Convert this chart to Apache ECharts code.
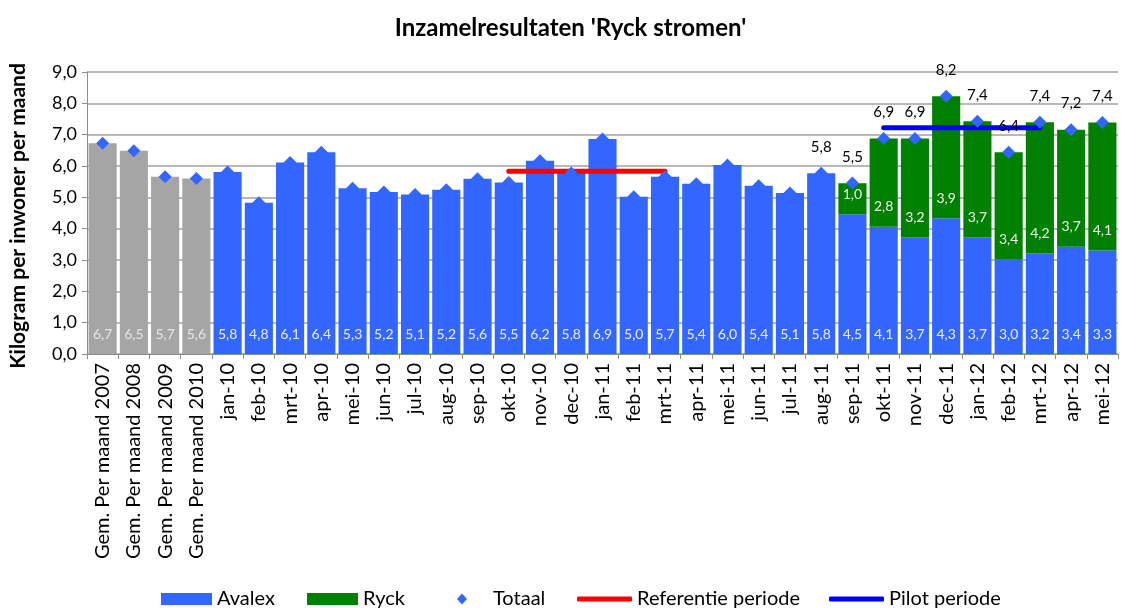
<!doctype html>
<html>
<head>
<meta charset="utf-8">
<title>Inzamelresultaten 'Ryck stromen'</title>
<style>
    html, body { margin: 0; padding: 0; background: #fff; }
    #chart { width: 1141px; height: 608px; }
</style>
</head>
<body>
<div id="chart"></div>
<script src="https://cdn.jsdelivr.net/npm/echarts@6/dist/echarts.min.js"></script>
<script>
    var maanden = ['Gem. Per maand 2007', 'Gem. Per maand 2008', 'Gem. Per maand 2009', 'Gem. Per maand 2010',
        'jan-10', 'feb-10', 'mrt-10', 'apr-10', 'mei-10', 'jun-10', 'jul-10', 'aug-10', 'sep-10', 'okt-10', 'nov-10', 'dec-10',
        'jan-11', 'feb-11', 'mrt-11', 'apr-11', 'mei-11', 'jun-11', 'jul-11', 'aug-11', 'sep-11', 'okt-11', 'nov-11', 'dec-11',
        'jan-12', 'feb-12', 'mrt-12', 'apr-12', 'mei-12'];
    var avalex = [6.73, 6.49, 5.66, 5.60,
        5.81, 4.83, 6.11, 6.44, 5.29, 5.17, 5.09, 5.24, 5.59, 5.47, 6.17, 5.78,
        6.86, 5.02, 5.66, 5.43, 6.03, 5.37, 5.14, 5.77, 4.46, 4.06, 3.72, 4.33,
        3.72, 3.03, 3.21, 3.42, 3.30];
    var ryck = [null, null, null, null,
        null, null, null, null, null, null, null, null, null, null, null, null,
        null, null, null, null, null, null, null, null, 0.99, 2.82, 3.16, 3.90,
        3.71, 3.41, 4.19, 3.74, 4.09];
    var totaal = [6.73, 6.49, 5.66, 5.60,
        5.81, 4.83, 6.11, 6.44, 5.29, 5.17, 5.09, 5.24, 5.59, 5.47, 6.17, 5.78,
        6.86, 5.02, 5.66, 5.43, 6.03, 5.37, 5.14, 5.77, 5.46, 6.88, 6.88, 8.23,
        7.43, 6.44, 7.40, 7.16, 7.39];
    // totaal label only shown from this month on
    var totaalLabelVanaf = 'aug-11';
    var referentie = { van: 'okt-10', tot: 'mrt-11', waarde: 5.83 };
    var pilot = { van: 'okt-11', tot: 'mrt-12', waarde: 7.22 };
    var aantalGemiddelden = 4;

    var font = 'Lato, "Open Sans", sans-serif';
    var blauw = '#3366FF';
    var groen = '#008000';
    var grijs = '#A5A5A5';

    var nl = function (v) {
        return v.toFixed(1).replace('.', ',');
    };

    var periodeLijn = function (p) {
        var a = maanden.indexOf(p.van);
        var b = maanden.indexOf(p.tot);
        return maanden.map(function (m, i) {
            return (i >= a && i <= b) ? p.waarde : null;
        });
    };

    var avalexData = avalex.map(function (v, i) {
        var grey = i < aantalGemiddelden;
        return {
            value: v,
            itemStyle: { color: grey ? grijs : blauw },
            label: { color: grey ? '#E6E6E6' : '#E8EEFF' }
        };
    });

    var labelStart = maanden.indexOf(totaalLabelVanaf);

    var myChart = echarts.init(document.getElementById('chart'));
    var legendBase = function (item, left, w, h, extra) {
        var l = {
            data: [item],
            left: left,
            top: 589,
            padding: 0,
            itemWidth: w,
            itemHeight: h,
            selectedMode: false,
            textStyle: { fontFamily: font, fontSize: 20, color: '#000' }
        };
        if (extra) {
            l.textStyle.padding = extra;
        }
        return l;
    };

    option = {
        animation: false,
        textStyle: { fontFamily: font },
        title: {
            text: "Inzamelresultaten 'Ryck stromen'",
            left: 'center',
            top: 11,
            textStyle: { fontFamily: font, fontSize: 24, fontWeight: 'bold', color: '#000' }
        },
        legend: [
            legendBase({ name: 'Avalex', icon: 'rect' }, 161, 51, 12),
            legendBase({ name: 'Ryck', icon: 'rect' }, 307, 51, 12),
            legendBase({ name: 'Totaal', icon: 'diamond' }, 457, 10, 11, [0, 0, 0, 21]),
            legendBase({ name: 'Referentie periode', icon: 'roundRect' }, 577, 55, 5),
            legendBase({ name: 'Pilot periode', icon: 'roundRect' }, 829, 55, 5)
        ],
        grid: { left: 85, right: 23, top: 72, bottom: 254 },
        xAxis: {
            type: 'category',
            data: maanden,
            axisLine: { lineStyle: { color: '#8C8C8C', width: 1 } },
            axisTick: { show: true, length: 5, lineStyle: { color: '#8C8C8C' } },
            axisLabel: { rotate: 90, fontSize: 20, color: '#000', fontFamily: font, margin: 9, interval: 0 }
        },
        yAxis: {
            type: 'value',
            min: 0,
            max: 9,
            interval: 1,
            name: 'Kilogram per inwoner per maand',
            nameLocation: 'middle',
            nameGap: 58,
            nameTextStyle: { fontFamily: font, fontSize: 21, fontWeight: 'bold', color: '#000', padding: [0, 6, 0, 0] },
            axisLine: { show: true, lineStyle: { color: '#8C8C8C' } },
            axisTick: { show: true, length: 5, lineStyle: { color: '#8C8C8C' } },
            axisLabel: { fontSize: 18, color: '#000', fontFamily: font, margin: 10, formatter: nl },
            splitLine: { lineStyle: { color: '#A0A0A0', width: 1.5 } }
        },
        series: [
            {
                name: 'Avalex',
                type: 'bar',
                stack: 'totaal',
                data: avalexData,
                itemStyle: { color: blauw },
                barCategoryGap: '10%',
                label: {
                    show: true,
                    position: 'insideBottom',
                    distance: 13,
                    fontSize: 14,
                    fontFamily: font,
                    formatter: function (p) { return nl(p.value); }
                }
            },
            {
                name: 'Ryck',
                type: 'bar',
                stack: 'totaal',
                data: ryck,
                itemStyle: { color: groen },
                label: {
                    show: true,
                    position: 'insideBottom',
                    distance: 13,
                    fontSize: 14,
                    fontFamily: font,
                    color: '#F0F0F0',
                    formatter: function (p) { return p.value == null ? '' : nl(p.value); }
                }
            },
            {
                name: 'Referentie periode',
                type: 'line',
                data: periodeLijn(referentie),
                symbol: 'none',
                z: 3,
                lineStyle: { color: '#FF0000', width: 5, cap: 'round' },
                itemStyle: { color: '#FF0000' }
            },
            {
                name: 'Pilot periode',
                type: 'line',
                data: periodeLijn(pilot),
                symbol: 'none',
                z: 3,
                lineStyle: { color: '#0000FF', width: 5, cap: 'round' },
                itemStyle: { color: '#0000FF' }
            },
            {
                name: 'Totaal',
                type: 'scatter',
                data: totaal,
                symbol: 'diamond',
                symbolSize: 13,
                z: 4,
                itemStyle: { color: blauw, opacity: 1 },
                label: {
                    show: true,
                    position: 'top',
                    distance: 12,
                    fontSize: 15,
                    fontFamily: font,
                    color: '#000',
                    formatter: function (p) { return p.dataIndex >= labelStart ? nl(p.value) : ''; }
                }
            }
        ]
    };
    myChart.setOption(option);
</script>
</body>
</html>
